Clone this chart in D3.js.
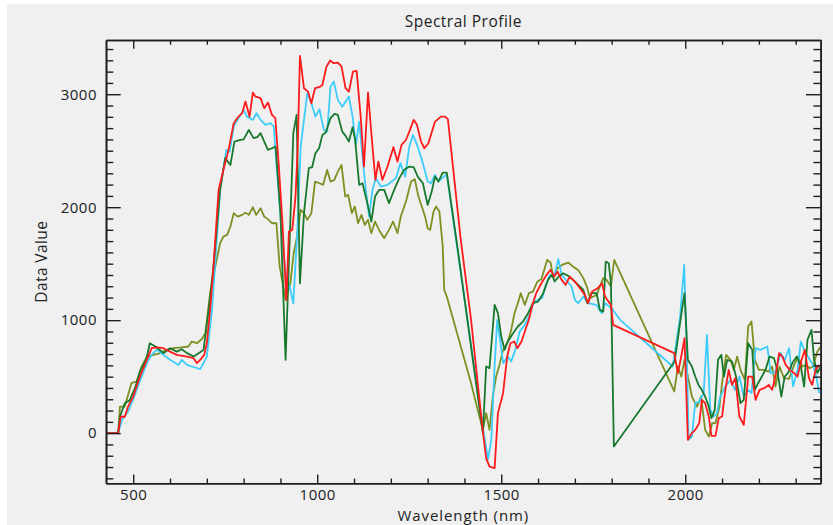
<!DOCTYPE html>
<html>
<head>
<meta charset="utf-8">
<script src="https://cdn.jsdelivr.net/npm/d3@7/dist/d3.min.js"></script>
<style>
  body { margin: 0; background: #fff; }
  svg { display: block; }
  text { font-family: "Open Sans", Lato, sans-serif; fill: #222; }
</style>
</head>
<body>
<div id="chart"></div>
<script>
// [wavelength nm, value]
const redSeries = [[426,0],[459,0],[466,147],[477,145],[486,235],[500,324],[518,500],[537,649],[550,752],[564,760],[582,752],[600,722],[618,693],[646,678],[664,664],[673,620],[682,649],[693,693],[700,796],[709,1091],[718,1474],[732,2153],[745,2330],[759,2507],[773,2743],[786,2802],[796,2832],[805,2935],[816,2802],[825,3015],[832,2979],[846,2965],[856,2876],[866,2926],[877,2817],[886,2788],[895,2390],[905,1888],[916,1180],[923,1784],[932,1799],[941,2094],[947,2536],[953,3339],[964,3053],[975,3023],[984,2920],[994,3053],[1005,3062],[1014,3082],[1025,3244],[1035,3298],[1045,3275],[1056,3280],[1066,3244],[1077,3053],[1086,3023],[1097,3200],[1107,3206],[1118,2802],[1127,2360],[1138,3015],[1147,2655],[1158,2242],[1166,2404],[1177,2242],[1191,2360],[1207,2531],[1218,2404],[1229,2551],[1241,2595],[1252,2684],[1262,2773],[1271,2729],[1282,2581],[1291,2522],[1302,2566],[1320,2758],[1336,2802],[1347,2802],[1355,2779],[1390,1711],[1418,1003],[1436,442],[1450,14],[1459,-221],[1468,-296],[1482,-310],[1491,177],[1505,354],[1516,678],[1525,796],[1535,811],[1544,752],[1555,811],[1564,899],[1575,1003],[1586,1150],[1595,1239],[1609,1327],[1623,1401],[1634,1445],[1644,1386],[1653,1430],[1664,1357],[1675,1312],[1686,1386],[1700,1342],[1714,1283],[1727,1224],[1736,1150],[1747,1253],[1762,1283],[1774,1327],[1782,1209],[1798,1135],[1804,958],[1970,708],[1980,531],[1989,678],[1998,841],[2007,-59],[2018,0],[2027,29],[2038,88],[2045,295],[2054,265],[2064,147],[2071,-24],[2082,-24],[2091,133],[2100,147],[2109,383],[2118,560],[2127,427],[2136,487],[2147,147],[2159,73],[2171,501],[2182,501],[2191,295],[2202,383],[2214,398],[2227,427],[2236,383],[2245,501],[2255,708],[2264,678],[2273,604],[2284,560],[2296,531],[2305,501],[2316,649],[2325,737],[2336,487],[2345,427],[2354,560],[2364,604]];

const cyanSeries = [[426,0],[459,0],[470,120],[486,190],[500,300],[518,460],[537,620],[550,693],[564,740],[582,693],[600,649],[623,604],[632,649],[646,604],[659,590],[682,566],[700,678],[714,1091],[736,2153],[753,2507],[762,2492],[773,2713],[786,2788],[800,2861],[809,2802],[825,2773],[835,2832],[846,2773],[859,2729],[873,2744],[882,2713],[889,2390],[905,1711],[916,1357],[925,1300],[935,1150],[946,1799],[955,2536],[973,3009],[984,2920],[995,2802],[1006,2867],[1018,2684],[1027,2669],[1036,3067],[1045,3112],[1056,2950],[1068,2890],[1077,2935],[1086,2979],[1096,2802],[1105,2551],[1114,2758],[1123,2448],[1132,2153],[1141,1917],[1150,2153],[1159,2257],[1173,2183],[1191,2198],[1214,2257],[1226,2390],[1239,2271],[1250,2536],[1260,2640],[1273,2536],[1287,2390],[1300,2227],[1309,2212],[1320,2286],[1329,2227],[1344,2271],[1352,2290],[1382,1600],[1450,50],[1464,-230],[1473,-59],[1482,600],[1489,1000],[1498,800],[1505,620],[1518,678],[1527,634],[1538,737],[1550,899],[1564,958],[1577,1047],[1589,1165],[1600,1180],[1611,1195],[1620,1298],[1632,1401],[1644,1386],[1655,1540],[1664,1401],[1691,1298],[1700,1180],[1709,1150],[1723,1209],[1736,1150],[1759,1135],[1773,1062],[1782,1150],[1800,1106],[1823,1003],[1966,590],[1986,1032],[1997,1489],[2004,737],[2009,-59],[2018,-30],[2027,265],[2038,280],[2050,354],[2059,870],[2068,206],[2077,147],[2086,177],[2095,324],[2109,413],[2123,472],[2135,383],[2147,501],[2159,324],[2171,383],[2180,354],[2191,752],[2204,737],[2214,752],[2223,767],[2232,531],[2245,545],[2259,708],[2271,649],[2282,752],[2293,413],[2305,560],[2314,811],[2325,723],[2347,604],[2356,501],[2364,354]];

const greenSeries = [[426,0],[459,0],[464,147],[477,265],[490,290],[505,400],[520,560],[535,650],[545,796],[564,760],[582,708],[600,752],[618,722],[632,743],[646,708],[664,678],[678,708],[691,737],[705,1091],[718,1474],[736,2153],[750,2434],[764,2374],[775,2581],[791,2596],[800,2600],[814,2684],[827,2611],[837,2620],[846,2655],[856,2581],[866,2507],[877,2522],[887,2536],[900,1947],[914,649],[935,2655],[944,2817],[953,1327],[964,1947],[977,2345],[986,2354],[995,2478],[1005,2522],[1014,2640],[1023,2661],[1036,2788],[1047,2826],[1056,2817],[1068,2669],[1077,2631],[1086,2581],[1096,2708],[1103,2596],[1114,2198],[1123,2212],[1136,2036],[1147,1873],[1157,2094],[1168,2153],[1182,2153],[1195,2036],[1209,2153],[1223,2257],[1236,2330],[1250,2360],[1262,2354],[1273,2271],[1287,2212],[1300,2020],[1311,2138],[1320,2271],[1329,2227],[1341,2306],[1352,2306],[1382,1622],[1450,0],[1459,590],[1468,575],[1482,1135],[1491,1062],[1500,855],[1509,737],[1518,811],[1532,885],[1545,944],[1559,988],[1573,1062],[1586,1150],[1600,1165],[1614,1239],[1627,1357],[1638,1401],[1645,1342],[1656,1386],[1668,1416],[1682,1392],[1695,1357],[1709,1312],[1723,1268],[1734,1150],[1745,1239],[1759,1239],[1768,1091],[1777,1076],[1784,1519],[1792,1504],[1798,1327],[1806,-119],[1971,634],[1982,885],[1991,1091],[1998,1239],[2007,649],[2018,590],[2027,501],[2036,427],[2045,383],[2054,324],[2064,235],[2071,133],[2080,206],[2089,649],[2098,693],[2105,501],[2114,649],[2127,634],[2138,501],[2150,265],[2159,295],[2171,796],[2182,737],[2189,383],[2198,442],[2218,560],[2229,678],[2241,664],[2250,560],[2261,324],[2270,501],[2279,531],[2291,620],[2303,678],[2314,590],[2323,413],[2332,826],[2343,914],[2350,649],[2359,531],[2368,590]];

const oliveSeries = [[426,0],[459,0],[464,235],[477,235],[495,442],[509,457],[523,590],[537,678],[555,693],[573,708],[591,737],[609,752],[632,760],[650,767],[659,811],[673,796],[686,831],[696,885],[709,1239],[723,1474],[736,1682],[745,1740],[755,1755],[764,1828],[773,1947],[784,1917],[796,1932],[805,1952],[814,1932],[825,2000],[834,1932],[846,1991],[856,1917],[868,1888],[877,1858],[889,1858],[898,1474],[914,1180],[927,1327],[936,1593],[945,1740],[955,1976],[964,1947],[973,1888],[984,1947],[994,2227],[1006,2212],[1016,2198],[1027,2330],[1036,2227],[1046,2240],[1056,2315],[1066,2374],[1076,2094],[1084,2109],[1094,1947],[1102,2006],[1111,1858],[1120,1932],[1129,1843],[1138,1888],[1147,1770],[1157,1873],[1168,1799],[1182,1726],[1195,1799],[1206,1873],[1218,1770],[1227,1917],[1241,2050],[1255,2227],[1265,2248],[1275,2094],[1284,2006],[1293,1917],[1300,1814],[1307,1799],[1316,1961],[1323,2006],[1332,1961],[1341,1652],[1345,1268],[1352,1209],[1418,442],[1436,206],[1450,29],[1459,177],[1468,29],[1477,324],[1486,501],[1495,604],[1505,737],[1518,811],[1527,914],[1536,1062],[1545,1150],[1553,1239],[1564,1135],[1575,1239],[1586,1253],[1598,1342],[1609,1363],[1625,1534],[1634,1510],[1641,1386],[1653,1460],[1665,1489],[1682,1510],[1695,1474],[1709,1445],[1723,1372],[1734,1283],[1741,1195],[1750,1209],[1759,1224],[1777,1372],[1786,1357],[1798,1298],[1807,1534],[1970,369],[1980,590],[1989,501],[1998,649],[2018,324],[2032,235],[2043,324],[2054,29],[2064,-30],[2073,88],[2082,88],[2093,235],[2100,442],[2111,693],[2123,649],[2132,560],[2141,678],[2150,560],[2162,472],[2171,944],[2180,988],[2189,649],[2200,560],[2214,560],[2227,545],[2236,590],[2245,413],[2256,590],[2268,487],[2282,480],[2296,604],[2307,678],[2318,590],[2329,604],[2338,575],[2347,590],[2359,723],[2368,767]];

const xMajorTicks = [500, 1000, 1500, 2000];
const yMajorTicks = [0, 1000, 2000, 3000];

const width = 833, height = 525;
const margin = {top: 40, right: 12.3, bottom: 41.7, left: 106};

const series = [
  {data: oliveSeries, color: '#7b9121'},
  {data: cyanSeries, color: '#3dcdfb'},
  {data: greenSeries, color: '#18782d'},
  {data: redSeries, color: '#fd1b1b'}
];

const svg = d3.select('#chart').append('svg')
    .attr('width', width)
    .attr('height', height);

svg.append('rect')
    .attr('x', 7).attr('y', 4)
    .attr('width', width - 7).attr('height', height - 4)
    .attr('fill', '#f0f0f0');

let x = d3.scaleLinear()
    .domain([426, 2368])
    .range([margin.left, width - margin.right]);

let y = d3.scaleLinear()
    .domain([-444, 3480])
    .range([height - margin.bottom, margin.top]);

svg.append('clipPath').attr('id', 'plot')
  .append('rect')
    .attr('x', margin.left).attr('y', margin.top)
    .attr('width', width - margin.left - margin.right)
    .attr('height', height - margin.top - margin.bottom);

let line = d3.line()
    .x(d => x(d[0]))
    .y(d => y(d[1]));

let lines = svg.append('g').attr('clip-path', 'url(#plot)');
series.forEach(s => {
  lines.append('path')
      .datum(s.data)
      .attr('fill', 'none')
      .attr('stroke', s.color)
      .attr('stroke-width', 1.8)
      .attr('stroke-linejoin', 'round')
      .attr('d', line);
});

const xMinor = d3.range(500, 2400, 100).filter(v => !xMajorTicks.includes(v));
const yMinor = d3.range(-400, 3500, 100).filter(v => !yMajorTicks.includes(v));
const bottomY = height - margin.bottom, rightX = width - margin.right;

// axes with inward ticks, box on all four sides
function styleAxis(g) {
  g.select('.domain').attr('stroke', '#1e1e1e').attr('stroke-width', 1.6);
  g.selectAll('.tick line').attr('stroke', '#1e1e1e').attr('stroke-width', 1.4);
  g.selectAll('.tick text')
      .style('font-size', '15px')
      .style('letter-spacing', '0.5px')
      .attr('fill', '#222');
}

svg.append('g')
    .attr('transform', `translate(0,${bottomY})`)
    .call(d3.axisBottom(x).tickValues(xMajorTicks).tickSize(-8.7).tickSizeOuter(0).tickPadding(6).tickFormat(d3.format('d')))
    .call(styleAxis);
svg.append('g')
    .attr('transform', `translate(0,${bottomY})`)
    .call(d3.axisBottom(x).tickValues(xMinor).tickSize(-4.7).tickSizeOuter(0).tickFormat(''))
    .call(styleAxis);
svg.append('g')
    .attr('transform', `translate(0,${margin.top})`)
    .call(d3.axisTop(x).tickValues(xMajorTicks).tickSize(-8.7).tickSizeOuter(0).tickFormat(''))
    .call(styleAxis);
svg.append('g')
    .attr('transform', `translate(0,${margin.top})`)
    .call(d3.axisTop(x).tickValues(xMinor).tickSize(-4.7).tickSizeOuter(0).tickFormat(''))
    .call(styleAxis);

svg.append('g')
    .attr('transform', `translate(${margin.left},0)`)
    .call(d3.axisLeft(y).tickValues(yMajorTicks).tickSize(-14.7).tickSizeOuter(0).tickPadding(9).tickFormat(d3.format('d')))
    .call(styleAxis);
svg.append('g')
    .attr('transform', `translate(${margin.left},0)`)
    .call(d3.axisLeft(y).tickValues(yMinor).tickSize(-7.3).tickSizeOuter(0).tickFormat(''))
    .call(styleAxis);
svg.append('g')
    .attr('transform', `translate(${rightX},0)`)
    .call(d3.axisRight(y).tickValues(yMajorTicks).tickSize(-14.7).tickSizeOuter(0).tickFormat(''))
    .call(styleAxis);
svg.append('g')
    .attr('transform', `translate(${rightX},0)`)
    .call(d3.axisRight(y).tickValues(yMinor).tickSize(-7.3).tickSizeOuter(0).tickFormat(''))
    .call(styleAxis);

let cx = (margin.left + rightX) / 2;

svg.append('text')
    .attr('x', cx)
    .attr('y', 26.5)
    .attr('text-anchor', 'middle')
    .style('font-size', '15.5px')
    .style('letter-spacing', '0.5px')
    .text('Spectral Profile');

svg.append('text')
    .attr('x', cx)
    .attr('y', 520.5)
    .attr('text-anchor', 'middle')
    .style('font-size', '15px')
    .style('letter-spacing', '0.9px')
    .text('Wavelength (nm)');

svg.append('text')
    .attr('transform', `translate(47,${(margin.top + bottomY) / 2}) rotate(-90)`)
    .attr('text-anchor', 'middle')
    .style('font-size', '15.5px')
    .style('letter-spacing', '0.4px')
    .text('Data Value');
</script>
</body>
</html>
